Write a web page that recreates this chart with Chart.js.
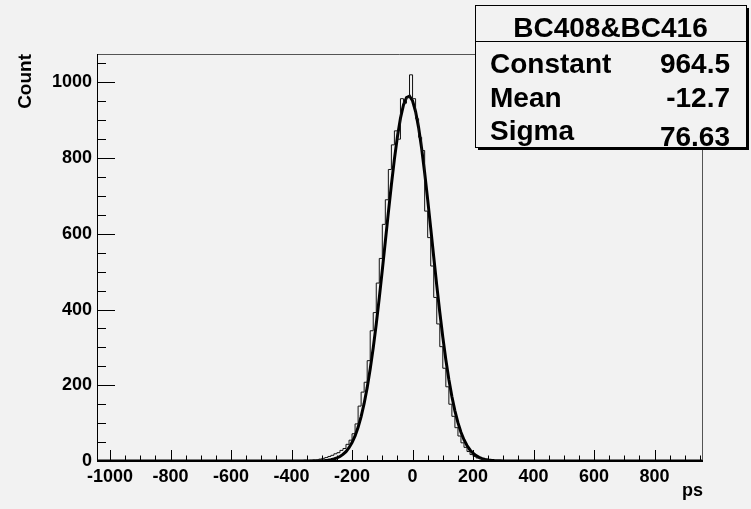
<!DOCTYPE html>
<html>
<head>
<meta charset="utf-8">
<script src="https://cdn.jsdelivr.net/npm/chart.js@4.4.0/dist/chart.umd.min.js"></script>
<style>
  html, body { margin: 0; padding: 0; background: #f2f2f2; }
  #wrap { width: 751px; height: 509px; }
</style>
</head>
<body>
<div id="wrap"><canvas id="histo" width="751" height="509"></canvas></div>
<script>
// histogram: 10 ps bins, first left edge at -400 (empty elsewhere)
const binStart = -400;
const binWidth = 10;
const counts = [
  0, 0, 1, 0, 1, 2, 1, 2, 3, 3,
  5, 7, 9, 12, 15, 19, 22, 28, 33, 44,
  55, 72, 98, 145, 182, 208, 265, 344, 392, 470,
  535, 625, 690, 770, 835, 872, 850, 957, 945, 960,
  1020, 957, 904, 855, 820, 660, 590, 515, 432, 362,
  302, 245, 196, 150, 118, 88, 66, 48, 36, 25,
  17, 12, 8, 6, 4, 3, 2, 1, 1, 0,
  1, 0, 0, 0, 0
];

// gaus fit curve, every 10 ps from -350
const fitStart = -350;
const fitStep = 10;
const fitValues = [
  0.06, 0.1, 0.18, 0.31, 0.52, 0.85, 1.4, 2.2, 3.4, 5.3,
  8.0, 11.8, 17.3, 24.8, 35.0, 48.7, 66.3, 89.0, 117.3, 152.1,
  193.8, 242.7, 298.8, 362.0, 430.7, 504.0, 579.9, 655.8, 729.4, 797.2,
  856.8, 905.2, 940.2, 960.1, 963.9, 951.4, 923.1, 880.6, 825.8, 761.4,
  690.2, 615.0, 538.8, 464.0, 392.8, 327.1, 267.6, 215.4, 170.3, 132.5,
  101.3, 76.1, 56.2, 40.8, 29.2, 20.5, 14.1, 9.6, 6.4, 4.2,
  2.7, 1.7, 1.07, 0.65, 0.39, 0.23, 0.13
];

const xRange = [-1043, 960];
const yRange = [0, 1075];
const xTicks = [-1000, -800, -600, -400, -200, 0, 200, 400, 600, 800];
const yTicks = [0, 200, 400, 600, 800, 1000];
const minorStep = 50;

const statsTitle = 'BC408&BC416';
const statsNames = ['Constant', 'Mean', 'Sigma'];
const statsValues = ['964.5', '-12.7', '76.63'];

const FONT = '"Liberation Sans", Arial, Helvetica, sans-serif';

const histPoints = [{ x: xRange[0], y: 0 }];
counts.forEach((c, i) => histPoints.push({ x: binStart + i * binWidth, y: c }));
histPoints.push({ x: binStart + counts.length * binWidth, y: 0 });
histPoints.push({ x: xRange[1], y: 0 });

const fitPoints = [{ x: xRange[0], y: 0 }];
fitValues.forEach((v, i) => fitPoints.push({ x: fitStart + i * fitStep, y: v }));
fitPoints.push({ x: xRange[1], y: 0 });

// ROOT style frame, inner ticks and stats box
const rootFrame = {
  id: 'rootFrame',
  afterDraw(chart) {
    const ctx = chart.ctx;
    const a = chart.chartArea;
    const xs = chart.scales.x, ys = chart.scales.y;
    ctx.save();
    ctx.strokeStyle = '#000';
    ctx.lineWidth = 1;
    ctx.beginPath();
    for (let v = Math.ceil(xRange[0] / minorStep) * minorStep; v <= xRange[1]; v += minorStep) {
      const px = Math.round(xs.getPixelForValue(v)) + 0.5;
      const len = v % 200 === 0 ? 11 : 5.5;
      ctx.moveTo(px, a.bottom);
      ctx.lineTo(px, a.bottom - len);
    }
    for (let v = 0; v <= yRange[1]; v += minorStep) {
      const py = Math.round(ys.getPixelForValue(v)) + 0.5;
      const len = v % 200 === 0 ? 18 : 9;
      ctx.moveTo(a.left, py);
      ctx.lineTo(a.left + len, py);
    }
    ctx.stroke();

    // frame
    ctx.strokeStyle = '#555';
    ctx.beginPath();
    ctx.moveTo(a.left, a.top + 0.5);
    ctx.lineTo(a.right - 0.5, a.top + 0.5);
    ctx.lineTo(a.right - 0.5, a.bottom);
    ctx.stroke();
    ctx.strokeStyle = '#000';
    ctx.beginPath();
    ctx.moveTo(a.left + 0.5, a.top);
    ctx.lineTo(a.left + 0.5, a.bottom);
    ctx.stroke();
    ctx.lineWidth = 2;
    ctx.beginPath();
    ctx.moveTo(a.left, a.bottom);
    ctx.lineTo(a.right, a.bottom);
    ctx.stroke();

    // stats box
    const bx = 475, by = 5, bw = 271, bh = 142;
    ctx.fillStyle = '#000';
    ctx.fillRect(bx + 3, by + 3, bw, bh);
    ctx.fillStyle = '#f2f2f2';
    ctx.fillRect(bx, by, bw, bh);
    ctx.lineWidth = 1;
    ctx.strokeStyle = '#000';
    ctx.strokeRect(bx + 0.5, by + 0.5, bw, bh);
    ctx.beginPath();
    ctx.moveTo(bx, 41.5);
    ctx.lineTo(bx + bw, 41.5);
    ctx.stroke();

    ctx.fillStyle = '#000';
    ctx.textBaseline = 'alphabetic';
    ctx.font = 'bold 28px ' + FONT;
    ctx.textAlign = 'center';
    ctx.fillText(statsTitle, bx + bw / 2, 37);
    const nameBase = [72.5, 107, 140];
    const valBase = [72.5, 107, 146];
    statsNames.forEach((n, i) => {
      ctx.textAlign = 'left';
      ctx.fillText(n, 490, nameBase[i]);
      ctx.textAlign = 'right';
      ctx.fillText(statsValues[i], 730, valBase[i]);
    });
    ctx.restore();
  }
};

new Chart(document.getElementById('histo'), {
  type: 'scatter',
  data: {
    datasets: [{
      label: 'histogram',
      data: histPoints,
      showLine: true,
      stepped: 'after',
      borderColor: '#111',
      borderWidth: 1,
      pointRadius: 0,
      fill: false
    }, {
      label: 'fit',
      data: fitPoints,
      showLine: true,
      borderColor: '#000',
      borderWidth: 3,
      pointRadius: 0,
      tension: 0,
      fill: false
    }]
  },
  options: {
    responsive: false,
    animation: false,
    layout: { padding: { top: 54, right: 48, left: 0, bottom: 0 } },
    plugins: { legend: { display: false }, tooltip: { enabled: false } },
    scales: {
      x: {
        type: 'linear',
        min: xRange[0],
        max: xRange[1],
        grid: { display: false, drawTicks: false },
        border: { display: false },
        afterBuildTicks: s => { s.ticks = xTicks.map(v => ({ value: v })); },
        afterFit: s => { s.height = 48; },
        ticks: {
          color: '#000',
          font: { family: FONT, size: 18, weight: 'bold' },
          padding: 5,
          maxRotation: 0,
          autoSkip: false,
          callback: v => String(v)
        },
        title: {
          display: true,
          text: 'ps',
          align: 'end',
          color: '#000',
          font: { family: FONT, size: 18, weight: 'bold' },
          padding: { top: 0, bottom: 7 }
        }
      },
      y: {
        type: 'linear',
        min: yRange[0],
        max: yRange[1],
        grid: { display: false, drawTicks: false },
        border: { display: false },
        afterBuildTicks: s => { s.ticks = yTicks.map(v => ({ value: v })); },
        afterFit: s => { s.width = 97; },
        ticks: {
          color: '#000',
          font: { family: FONT, size: 18, weight: 'bold' },
          padding: 5,
          callback: v => String(v)
        },
        title: {
          display: true,
          text: 'Count',
          align: 'end',
          color: '#000',
          font: { family: FONT, size: 19, weight: 'bold' },
          padding: { top: 14, bottom: 0 }
        }
      }
    }
  },
  plugins: [rootFrame]
});
</script>
</body>
</html>
